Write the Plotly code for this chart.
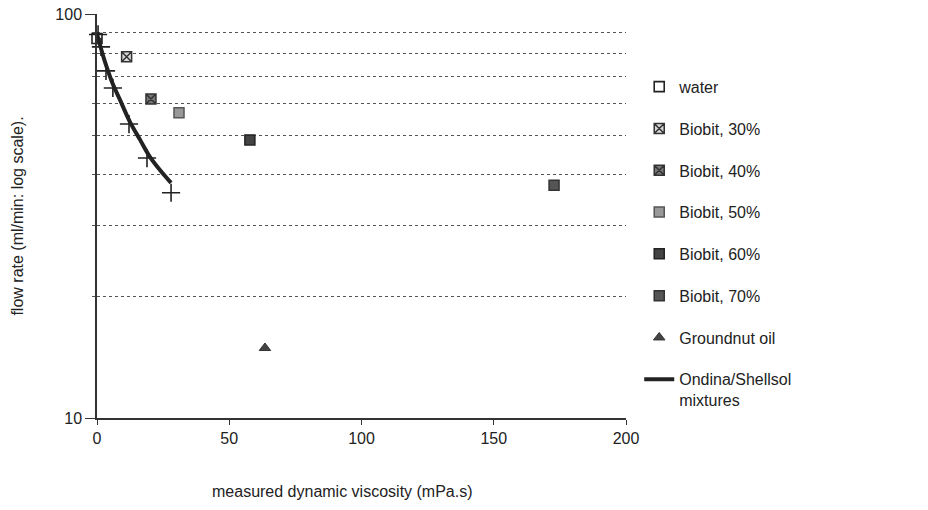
import plotly.graph_objects as go

# ---- data ----
water_x = [0.0]; water_y = [87.0]
b30_x = [11.2]; b30_y = [78.4]
b40_x = [20.4]; b40_y = [61.6]
b50_x = [31.0]; b50_y = [57.0]
b60_x = [57.8]; b60_y = [48.8]
b70_x = [172.8]; b70_y = [37.7]
oil_x = [63.5]; oil_y = [14.9]
ond_x = [0.4, 1.5, 3.4, 6.0, 12.1, 18.9, 28.0]
ond_y = [89.0, 82.9, 72.3, 65.6, 53.4, 44.0, 36.1]
fit_x = [0.0, 1.13, 3.02, 5.67, 8.7, 12.5, 16.3, 20.0, 23.8, 28.0]
fit_y = [89.2, 83.8, 76.1, 67.9, 61.3, 54.0, 48.8, 44.3, 41.1, 38.2]

x_ticks = [0, 50, 100, 150, 200]
y_ticks = [10, 100]

FONT = "Liberation Sans, Arial, sans-serif"
INK = "#222222"

fig = go.Figure()

def marker_trace(x, y, name, symbol, color, line_color, line_w=1.5, size=10, group=None):
    fig.add_trace(go.Scatter(
        x=x, y=y, mode="markers", name=name, legendgroup=group or name,
        cliponaxis=False,
        marker=dict(symbol=symbol, size=size, color=color,
                    line=dict(color=line_color, width=line_w)),
    ))

marker_trace(water_x, water_y, "water", "square", "white", INK, 1.6)
marker_trace(b30_x, b30_y, "Biobit, 30%", "square-x", "#d8d8d8", "#333333", 1.5)
marker_trace(b40_x, b40_y, "Biobit, 40%", "square-x", "#777777", "#333333", 1.5)
marker_trace(b50_x, b50_y, "Biobit, 50%", "square", "#999999", "#555555", 1.5)
marker_trace(b60_x, b60_y, "Biobit, 60%", "square", "#444444", "#222222", 1.5)
marker_trace(b70_x, b70_y, "Biobit, 70%", "square", "#555555", "#333333", 1.5)
marker_trace(oil_x, oil_y, "Groundnut oil", "triangle-up", "#444444", "#333333", 1.0, 10)

fig.add_trace(go.Scatter(
    x=fit_x, y=fit_y, mode="lines", name="Ondina/Shellsol<br>mixtures",
    legendgroup="ond", line=dict(color=INK, width=4, shape="spline"),
))
fig.add_trace(go.Scatter(
    x=ond_x, y=ond_y, mode="markers", showlegend=False, legendgroup="ond",
    cliponaxis=False,
    marker=dict(symbol="cross-thin", size=13, line=dict(color=INK, width=1.6)),
))

fig.update_layout(
    width=928, height=510,
    margin=dict(l=97, r=302, t=14, b=92, pad=0, autoexpand=False),
    paper_bgcolor="white", plot_bgcolor="white",
    font=dict(family=FONT, size=16, color=INK),
    showlegend=True,
    legend=dict(
        x=1.025, xanchor="left", y=0.862, yanchor="top",
        font=dict(family=FONT, size=16, color=INK),
        tracegroupgap=18, valign="top",
        bgcolor="rgba(0,0,0,0)",
    ),
    xaxis=dict(
        range=[0, 200], tickvals=x_ticks, ticktext=[str(v) for v in x_ticks],
        showgrid=False, zeroline=False, automargin=False,
        showline=True, linecolor="#333333", linewidth=1.5,
        ticks="outside", ticklen=5, tickcolor="#333333",
        tickfont=dict(size=16),
    ),
    yaxis=dict(
        type="log", range=[1, 2], tickvals=y_ticks,
        ticktext=[str(v) for v in y_ticks],
        showgrid=True, gridcolor="#333333", gridwidth=1,
        zeroline=False, automargin=False,
        showline=True, linecolor="#333333", linewidth=1.5,
        ticks="outside", ticklen=10, tickcolor="#333333",
        tickfont=dict(size=16),
        minor=dict(dtick="D1", showgrid=True, griddash="dot",
                   gridcolor="#555555", gridwidth=1,
                   ticks="outside", ticklen=3, tickcolor="#555555"),
    ),
    annotations=[
        dict(text="measured dynamic viscosity (mPa.s)", xref="paper", yref="paper",
             x=0.465, y=-0.183, xanchor="center", yanchor="middle",
             showarrow=False, font=dict(size=16, color=INK)),
        dict(text="flow rate (ml/min: log scale).", xref="paper", yref="paper",
             x=-0.152, y=0.5, xanchor="center", yanchor="middle", textangle=-90,
             showarrow=False, font=dict(size=16, color=INK)),
    ],
)

fig.write_html("out.html")
